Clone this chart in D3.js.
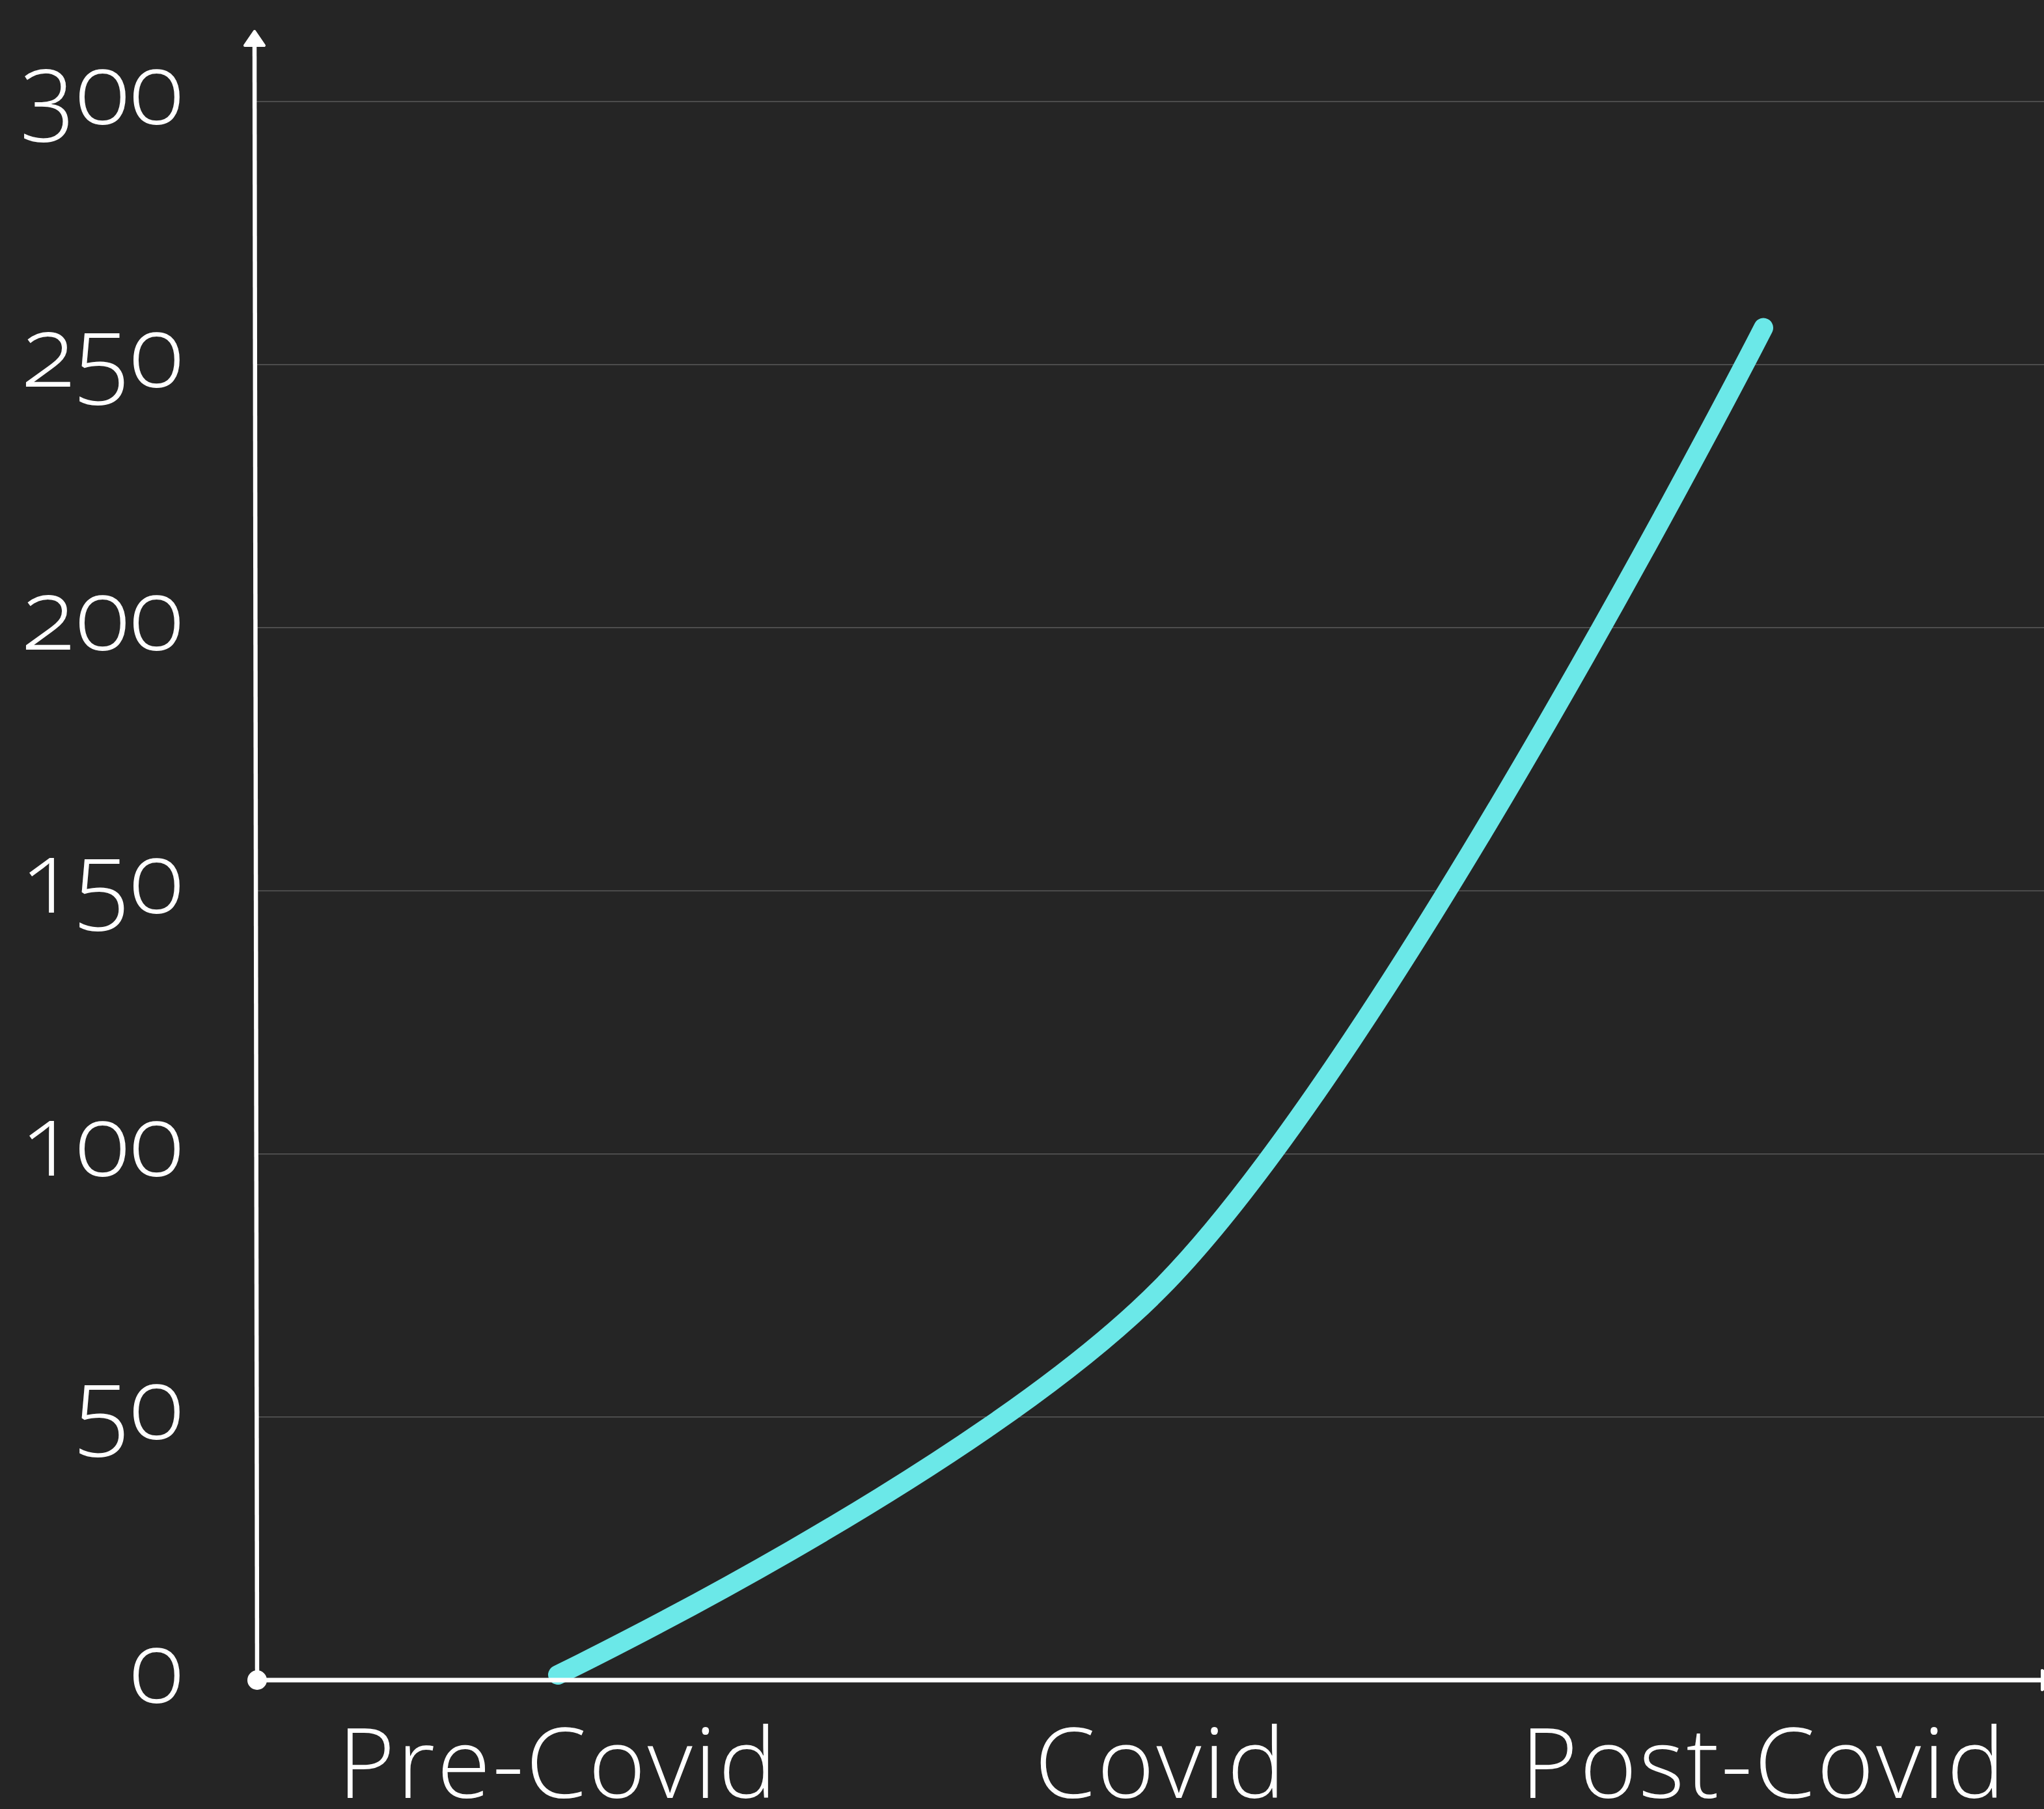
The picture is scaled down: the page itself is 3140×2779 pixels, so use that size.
<!DOCTYPE html>
<html><head><meta charset="utf-8">
<script src="https://cdn.jsdelivr.net/npm/d3@7"></script>
<style>
html,body{margin:0;padding:0;background:#252525;}
svg{display:block;}
text{font-family:"Open Sans",sans-serif;font-weight:300;fill:#ffffff;font-variant-numeric:oldstyle-nums;font-feature-settings:"onum" 1;}
</style></head><body>
<svg id="chart" width="3140" height="2779"></svg>
<script>
const categories = ["Pre-Covid", "Covid", "Post-Covid"];
const values = [1, 74.5, 257];
const yTicks = [0, 50, 100, 150, 200, 250, 300];
const yDomain = [0, 300];

const W = 3140, H = 2779;
const plot = {left: 394, right: 3172, top: 156, bottom: 2581};

const svg = d3.select("#chart");
svg.append("rect").attr("width", W).attr("height", H).attr("fill", "#252525");

const x = d3.scalePoint().domain(categories).range([plot.left, plot.right]).padding(0.5);
const y = d3.scaleLinear().domain(yDomain).range([plot.bottom, plot.top]);

// gridlines
svg.append("g").selectAll("line").data(yTicks.filter(d => d !== 0)).join("line")
  .attr("x1", plot.left).attr("x2", W)
  .attr("y1", d => y(d)).attr("y2", d => y(d))
  .attr("stroke", "#5a5a5a").attr("stroke-width", 1.5);

// y tick labels via axis
const yAxis = svg.append("g").attr("transform", `translate(${plot.left},0)`)
  .call(d3.axisLeft(y).tickValues(yTicks).tickSize(0).tickPadding(112).tickFormat(d3.format("d")));
yAxis.select(".domain").remove();
yAxis.selectAll("text").attr("font-size", 155).attr("dy", 33)
  .style("font-family", '"Open Sans",sans-serif').style("font-weight", 300).attr("fill", "#fff");

// x tick labels via axis
const xAxis = svg.append("g").attr("transform", `translate(0,${plot.bottom})`)
  .call(d3.axisBottom(x).tickSize(0).tickPadding(0));
xAxis.select(".domain").remove();
xAxis.selectAll("text").attr("font-size", 150).attr("y", 181).attr("dy", 0)
  .style("letter-spacing", "3px")
  .style("font-family", '"Open Sans",sans-serif').style("font-weight", 300).attr("fill", "#fff");

const data = categories.map((c, i) => ({c, v: values[i]}));
const line = d3.line().x(d => x(d.c)).y(d => y(d.v)).curve(d3.curveCatmullRom.alpha(0.5));

svg.append("path").datum(data).attr("d", line)
  .attr("fill", "none").attr("stroke", "#6be8e8").attr("stroke-width", 30)
  .attr("stroke-linecap", "round").attr("stroke-linejoin", "round");

// axes lines
const axisG = svg.append("g");
axisG.append("line").attr("x1", 395).attr("y1", plot.bottom).attr("x2", 391).attr("y2", 66)
  .attr("stroke", "#fff").attr("stroke-width", 6.5);
axisG.append("path").attr("d", "M391,48 L406,70 L376,70 Z")
  .attr("fill", "#fff").attr("stroke", "#fff").attr("stroke-width", 4).attr("stroke-linejoin", "round");
axisG.append("line").attr("x1", plot.left).attr("y1", plot.bottom).attr("x2", W).attr("y2", plot.bottom)
  .attr("stroke", "#fff").attr("stroke-width", 7);
axisG.append("path").attr("d", `M3137,${plot.bottom - 15} L3160,${plot.bottom} L3137,${plot.bottom + 15} Z`)
  .attr("fill", "#fff").attr("stroke", "#fff").attr("stroke-width", 4).attr("stroke-linejoin", "round");
axisG.append("circle").attr("cx", 395).attr("cy", plot.bottom).attr("r", 15).attr("fill", "#fff");
</script>
</body></html>
